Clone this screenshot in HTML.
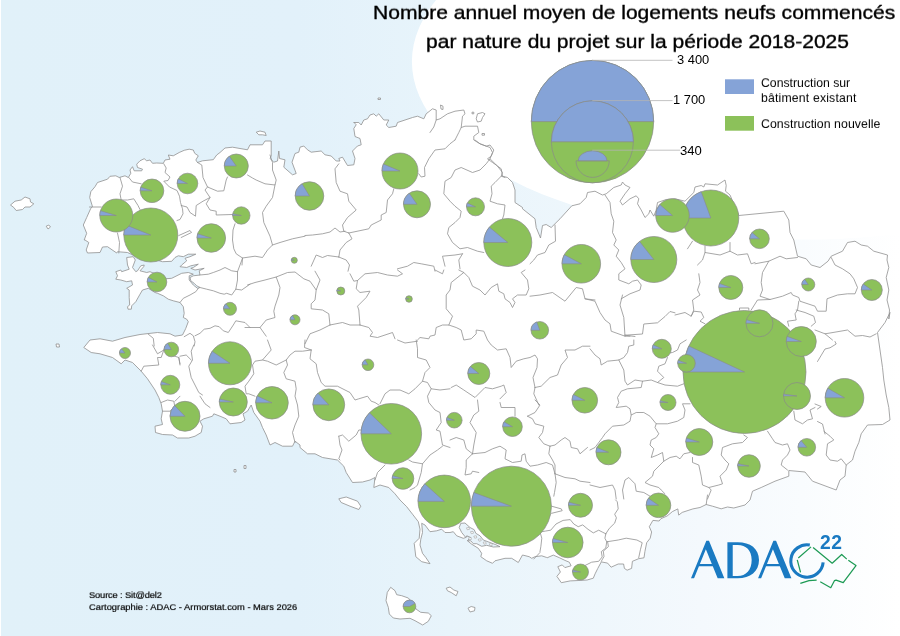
<!DOCTYPE html>
<html><head><meta charset="utf-8"><title>Carte</title>
<style>
html,body{margin:0;padding:0;}
body{width:900px;height:636px;overflow:hidden;position:relative;font-family:"Liberation Sans",sans-serif;background:#fff;}
#bg{position:absolute;left:1px;top:0;width:899px;height:636px;background:linear-gradient(to right,#e1f1f9 0%,#e2f1fa 33%,#e8f4fb 50%,#eff7fc 67%,#f4f9fd 78%,#f9fcfe 89%,#ffffff 100%);}
svg{position:absolute;left:0;top:0;}
.t{position:absolute;white-space:nowrap;color:#000;line-height:1;transform-origin:0 100%;will-change:transform;}
</style></head><body>
<div id="bg"></div>
<svg width="900" height="636" viewBox="0 0 900 636">

<ellipse cx="803.2" cy="61.6" rx="391.3" ry="177.9" fill="#ffffff"/>
<g fill="#ffffff" stroke="#909090" stroke-width="0.8" stroke-linejoin="round">
<path d="M84.2,240.0 L86.7,233.3 L83.3,225.0 L86.7,217.5 L90.8,208.3 L92.5,206.7 L89.7,197.5 L90.8,191.7 L95.0,186.7 L97.5,182.5 L107.5,179.2 L110.0,176.3 L115.8,175.8 L119.2,177.5 L125.0,175.8 L128.3,177.5 L130.8,173.3 L130.0,170.0 L132.5,166.7 L134.2,170.8 L141.7,170.8 L142.5,169.2 L137.5,167.5 L136.7,164.2 L140.0,160.8 L144.2,158.7 L146.7,160.8 L150.0,160.0 L152.5,163.3 L156.7,163.0 L163.3,163.3 L165.0,160.0 L170.0,159.2 L168.3,155.0 L173.3,155.8 L179.2,152.5 L184.2,150.3 L189.2,149.2 L193.3,150.0 L194.7,153.3 L198.3,155.8 L195.8,160.0 L197.5,162.5 L202.5,160.8 L213.3,159.7 L216.7,155.0 L220.0,152.5 L225.0,148.0 L232.5,147.2 L247.5,149.8 L250.0,144.8 L262.5,144.8 L265.0,141.0 L271.2,141.0 L271.2,156.0 L270.0,158.5 L273.8,162.2 L277.5,161.0 L278.8,151.0 L279.5,158.5 L285.0,159.8 L283.8,167.2 L292.5,174.8 L296.2,173.5 L292.0,162.2 L295.0,153.5 L298.8,152.2 L300.0,147.2 L303.8,146.0 L307.5,149.8 L311.2,152.2 L321.2,151.0 L325.0,154.8 L331.2,156.0 L336.2,161.0 L340.0,161.0 L338.8,158.5 L342.5,157.2 L347.5,165.5 L353.8,164.8 L355.0,158.5 L352.5,151.0 L357.5,146.0 L361.2,144.8 L360.0,138.5 L355.0,136.5 L353.8,128.5 L356.2,124.8 L353.8,122.2 L353.8,122.5 L358.8,122.5 L361.2,125.0 L363.8,120.0 L367.5,118.8 L370.0,115.0 L373.8,113.8 L376.2,116.2 L378.8,113.8 L383.8,120.0 L388.8,120.0 L386.2,125.0 L388.8,127.5 L396.2,126.2 L397.5,122.5 L412.5,117.5 L417.5,116.2 L423.8,118.8 L426.2,113.8 L432.5,108.8 L436.2,110.0 L436.2,120.0 L440.0,118.8 L447.5,113.8 L455.0,111.2 L463.8,110.0 L465.0,113.8 L462.5,116.2 L461.2,127.5 L465.0,126.2 L477.5,126.2 L478.8,132.5 L473.8,136.2 L473.8,140.0 L480.0,143.8 L486.2,146.2 L490.0,145.0 L493.8,150.0 L491.2,156.2 L487.5,158.8 L492.5,162.5 L496.2,165.0 L501.2,168.8 L502.5,176.2 L507.5,177.5 L512.5,182.5 L515.0,190.0 L515.0,202.5 L522.5,207.5 L522.5,208.8 L535.0,218.8 L536.2,227.5 L540.5,238.0 L542.5,225.5 L546.2,224.5 L551.2,227.5 L560.0,218.8 L571.8,205.8 L580.0,203.8 L586.2,197.5 L587.5,192.5 L595.0,191.2 L600.0,193.8 L602.5,195.0 L606.2,193.8 L613.8,187.5 L621.2,185.0 L622.5,182.0 L625.0,185.0 L630.0,187.5 L625.0,193.8 L620.0,201.2 L622.5,205.0 L630.0,198.8 L636.2,195.8 L638.8,198.8 L637.5,203.8 L641.2,210.0 L645.0,217.5 L648.8,213.8 L650.0,210.0 L653.8,216.2 L656.2,210.0 L657.5,202.5 L666.2,199.5 L675.0,198.8 L685.0,201.2 L693.8,192.5 L695.0,187.0 L701.2,185.5 L703.8,187.0 L705.0,183.8 L717.5,185.0 L725.0,180.0 L726.2,185.5 L725.5,191.2 L730.0,195.0 L738.8,215.5 L783.8,211.2 L788.8,220.0 L790.0,232.5 L793.8,240.0 L797.5,256.2 L806.2,258.8 L811.2,265.0 L820.0,267.5 L828.0,261.2 L831.2,256.2 L842.5,251.2 L847.5,242.5 L855.0,241.2 L861.2,245.0 L867.5,246.2 L873.8,251.2 L887.5,255.0 L887.0,260.0 L888.8,267.5 L886.2,277.5 L888.8,290.0 L887.0,300.0 L889.5,310.0 L888.8,319.0 L890.0,312.5 L885.0,322.5 L877.5,332.5 L880.0,350.0 L882.5,367.5 L883.8,380.0 L886.2,395.0 L888.8,407.5 L890.0,420.0 L882.5,424.5 L867.5,425.0 L861.2,433.8 L858.8,442.5 L855.0,451.2 L852.5,460.0 L846.2,465.0 L845.0,476.2 L840.0,480.0 L836.2,490.0 L812.5,481.2 L805.0,472.0 L788.8,470.5 L788.8,476.2 L775.0,481.2 L761.2,487.5 L752.5,491.2 L750.0,500.0 L745.0,505.0 L733.8,508.0 L727.5,507.0 L721.2,508.8 L712.5,506.2 L706.2,504.5 L700.0,507.5 L692.9,508.9 L682.2,512.4 L678.7,515.1 L677.8,508.9 L672.4,511.6 L667.1,516.0 L660.9,518.7 L659.1,521.0 L652.9,520.4 L649.3,526.7 L651.6,532.0 L650.2,538.2 L646.7,542.7 L644.9,551.6 L644.0,557.8 L638.7,558.7 L632.4,561.3 L631.6,568.4 L627.1,570.2 L624.4,568.4 L623.6,564.0 L618.2,564.0 L611.1,567.2 L607.6,563.1 L601.3,561.9 L597.8,568.4 L595.1,573.8 L593.3,578.2 L587.1,580.0 L580.9,580.4 L570.2,580.9 L561.3,582.7 L556.9,576.4 L560.4,572.0 L557.8,566.7 L562.2,564.9 L564.9,567.6 L571.1,565.8 L569.3,562.2 L564.9,560.4 L559.6,557.8 L553.3,555.1 L547.1,557.8 L546.7,557.5 L541.7,555.8 L535.0,556.7 L531.7,558.3 L529.2,556.7 L522.5,555.0 L518.3,562.5 L511.7,558.3 L505.0,558.3 L495.0,560.8 L492.5,563.3 L486.7,560.8 L480.8,556.7 L481.7,553.3 L478.3,548.3 L471.7,544.2 L467.5,540.8 L470.8,537.5 L474.2,537.5 L470.0,533.3 L465.8,537.5 L463.3,538.3 L456.7,535.8 L453.3,531.7 L450.0,532.5 L445.0,532.5 L441.7,529.2 L436.7,530.8 L430.0,531.7 L425.0,525.0 L421.7,523.3 L422.5,532.5 L420.8,539.2 L420.0,545.0 L422.5,553.3 L425.8,557.5 L430.0,563.7 L421.7,561.7 L415.8,556.7 L414.2,543.3 L419.2,538.3 L420.0,529.2 L418.3,521.7 L412.5,514.2 L406.7,506.7 L400.0,500.0 L395.0,493.8 L388.8,487.5 L380.0,485.0 L373.8,487.5 L375.0,477.5 L370.0,480.0 L362.5,482.0 L352.5,482.5 L346.2,472.5 L343.8,466.2 L337.5,460.0 L322.5,457.5 L315.0,453.8 L307.5,453.8 L300.0,447.5 L300.0,445.0 L295.0,441.2 L292.5,446.2 L282.5,446.2 L275.0,442.5 L270.0,445.0 L266.2,435.0 L262.5,427.5 L260.0,421.2 L253.8,412.5 L251.2,405.0 L247.5,411.2 L243.0,413.8 L245.0,420.0 L241.2,422.5 L230.0,423.8 L226.2,418.8 L220.0,416.2 L213.8,413.8 L212.5,416.2 L203.8,418.8 L200.0,421.2 L202.5,426.2 L201.2,432.5 L195.0,436.2 L188.8,438.0 L177.5,438.0 L172.5,435.0 L162.5,434.5 L155.5,432.5 L155.0,426.2 L162.5,424.5 L161.2,418.8 L162.5,411.2 L161.2,403.8 L158.8,397.5 L155.0,390.0 L147.5,378.8 L141.2,371.2 L132.5,362.5 L125.0,360.0 L121.2,363.8 L112.5,357.5 L100.0,353.8 L91.2,352.5 L83.8,347.5 L90.0,340.0 L100.0,338.8 L112.5,341.2 L125.0,337.5 L140.0,334.5 L157.5,332.5 L170.0,333.8 L175.0,336.2 L182.5,335.0 L185.0,330.0 L185.8,328.3 L188.3,321.7 L186.7,319.2 L183.3,317.5 L184.2,313.3 L183.3,306.7 L180.0,302.5 L173.3,300.8 L168.3,299.2 L163.3,295.8 L157.5,293.3 L155.0,292.5 L148.3,288.3 L142.5,290.0 L140.0,294.2 L135.8,301.7 L131.7,305.8 L131.3,309.2 L128.0,309.2 L127.5,306.7 L129.7,305.0 L129.2,297.5 L129.2,290.0 L126.7,288.3 L132.5,285.0 L131.7,280.8 L126.7,281.7 L120.8,280.0 L115.8,279.2 L117.5,275.8 L115.8,271.7 L120.8,270.0 L121.7,271.7 L129.2,269.2 L127.5,265.0 L126.7,257.5 L133.3,256.7 L135.3,260.0 L132.5,267.5 L135.8,271.7 L137.5,270.8 L140.8,265.8 L144.2,265.0 L143.7,266.7 L140.0,270.8 L146.7,272.5 L150.0,271.7 L166.7,278.7 L171.7,278.3 L181.7,273.3 L188.3,272.5 L193.3,274.2 L189.2,275.8 L189.2,280.0 L193.3,285.0 L197.5,288.3 L200.0,287.5 L196.7,285.8 L194.2,283.3 L190.8,280.8 L190.0,277.5 L193.3,275.8 L200.0,275.0 L199.2,270.8 L204.2,268.3 L195.0,270.0 L190.8,268.3 L193.3,267.5 L198.3,264.2 L190.8,265.8 L186.7,267.5 L180.0,266.7 L181.7,265.0 L186.7,260.8 L185.0,258.3 L190.0,256.7 L195.8,254.2 L188.3,254.2 L183.3,256.7 L178.3,255.8 L175.0,257.5 L171.7,261.3 L162.5,261.7 L150.0,258.3 L136.7,256.7 L127.5,252.5 L117.5,251.7 L116.7,253.0 L107.5,246.7 L102.5,247.0 L100.0,252.5 L87.5,253.0 L86.2,250.0 L88.8,242.5 L85.0,240.0Z"/>
<path d="M10.5,205.0 L15.0,201.2 L21.2,200.0 L25.0,197.0 L30.0,198.8 L30.5,202.0 L33.8,203.8 L30.0,207.0 L25.0,207.0 L22.5,209.5 L16.2,210.5 L13.8,207.5Z"/>
<path d="M46.2,226.2 L48.8,225.0 L50.5,227.0 L48.0,229.0Z"/>
<path d="M256.2,132.2 L260.0,131.0 L265.0,132.2 L266.2,135.5 L262.5,134.8 L258.8,134.8Z"/>
<path d="M477.5,113.8 L482.5,112.5 L485.0,113.8 L482.5,117.5 L481.2,121.2 L477.5,122.0 L476.2,118.8Z"/>
<path d="M378.0,98.0 L380.5,98.0 L380.5,99.5 L378.0,99.5Z"/>
<path d="M482.0,133.5 L484.5,133.5 L484.5,135.2 L482.0,135.2Z"/>
<path d="M472.0,112.2 L473.8,112.2 L473.8,113.8 L472.0,113.8Z"/>
<path d="M440.5,105.0 L443.0,106.2 L443.0,109.5 L441.0,109.0Z"/>
<path d="M338.8,498.8 L346.2,497.0 L357.5,501.2 L360.8,506.2 L358.8,509.5 L350.0,506.2 L341.2,502.5Z"/>
<path d="M387.3,592.3 L390.7,587.3 L395.0,590.7 L396.7,594.7 L401.7,595.7 L408.3,598.0 L411.7,601.7 L416.0,609.0 L420.7,612.3 L428.3,613.0 L431.3,615.7 L428.3,621.3 L422.7,625.0 L415.0,620.7 L410.0,618.3 L400.0,619.0 L393.3,618.0 L389.3,614.0 L388.3,607.3 L386.0,600.7Z"/>
<path d="M446.2,588.2 L450.0,587.0 L453.8,590.0 L458.0,591.5 L456.2,595.8 L451.2,592.5 L447.5,590.8Z"/>
<path d="M468.0,608.2 L471.2,606.5 L475.0,607.5 L474.5,610.8 L470.0,612.0Z"/>
<path d="M234.0,469.5 L236.0,469.5 L236.0,472.0 L234.0,472.0Z"/>
<path d="M244.0,465.5 L246.0,465.5 L246.0,468.5 L244.0,468.5Z"/>
<path d="M56.0,344.0 L59.0,344.0 L59.5,347.0 L56.5,347.0Z"/>
<path d="M460.8,523.3 L465.0,523.0 L470.0,527.5 L474.2,529.7 L475.8,533.3 L480.0,535.8 L483.3,540.0 L490.0,542.5 L495.8,544.7 L500.0,546.7 L493.3,547.0 L486.7,545.3 L481.7,546.3 L476.7,543.7 L473.3,543.7 L470.8,540.8 L467.5,540.8 L470.8,537.5 L466.7,535.8 L465.8,537.5 L461.7,532.5 L459.2,527.5Z" fill="#e8f3fa"/>
<path d="M466.5,527.8 L469.0,527.5 L469.5,529.3 L467.3,529.8Z" stroke-width="0.5"/>
<path d="M470.5,531.7 L473.0,531.3 L473.5,533.2 L471.3,533.7Z" stroke-width="0.5"/>
<path d="M473.8,536.2 L476.3,535.8 L476.8,537.7 L474.7,538.2Z" stroke-width="0.5"/>
<path d="M478.2,539.2 L480.7,538.8 L481.2,540.7 L479.0,541.2Z" stroke-width="0.5"/>
<path d="M483.2,542.2 L485.7,541.8 L486.2,543.7 L484.0,544.2Z" stroke-width="0.5"/>
<path d="M489.3,543.8 L491.8,543.5 L492.3,545.3 L490.2,545.8Z" stroke-width="0.5"/>
<path d="M468.5,537.8 L471.0,537.5 L471.5,539.3 L469.3,539.8Z" stroke-width="0.5"/>
</g>
<g fill="none" stroke="#909090" stroke-width="0.8" stroke-linejoin="round" stroke-linecap="round">
<path d="M89.5,207.0 L101.2,207.0"/>
<path d="M120.0,177.5 L122.5,186.2 L120.0,193.8 L121.2,200.0 L127.5,200.0 L133.8,198.8 L138.0,205.5 L140.0,209.5"/>
<path d="M128.8,177.5 L132.5,182.0 L141.2,183.8"/>
<path d="M117.5,233.0 L119.5,242.5 L118.8,253.0"/>
<path d="M163.8,163.8 L166.2,168.0 L165.0,172.5 L170.0,177.0 L168.0,180.5 L163.8,181.2 L169.5,187.0 L177.0,190.5 L179.5,196.2 L180.5,202.5 L182.5,208.8 L183.0,213.8 L180.0,219.5 L177.0,220.5"/>
<path d="M197.5,162.5 L201.8,165.0 L203.0,177.5 L207.5,187.0 L217.5,191.2 L223.8,190.8 L226.2,180.0 L227.5,177.0"/>
<path d="M207.5,187.0 L205.0,190.0 L210.0,197.5 L206.2,203.8 L210.0,210.0 L216.2,211.2 L216.2,215.0 L232.5,214.5"/>
<path d="M181.2,205.5 L187.0,207.0 L190.0,212.5 L195.5,216.2 L196.2,205.5 L203.0,201.2 L210.0,197.5"/>
<path d="M247.5,175.0 L252.5,178.0 L256.2,180.0 L265.0,183.8 L275.0,185.0 L276.2,180.0 L272.5,170.0 L272.5,162.5 L270.0,155.0"/>
<path d="M275.0,185.0 L272.5,197.5 L266.2,206.2 L262.5,212.5 L263.8,222.5 L270.0,236.2 L272.5,245.0 L267.5,250.0 L262.5,257.5 L255.0,256.2 L242.5,258.0 L236.2,253.8 L233.8,248.8 L232.5,240.0 L233.0,230.0 L235.0,223.8"/>
<path d="M272.5,245.0 L280.0,242.5 L292.5,238.8 L305.0,236.2"/>
<path d="M242.5,258.0 L242.0,265.0"/>
<path d="M338.8,163.8 L335.0,168.8 L336.2,182.5 L340.0,191.2 L347.5,193.8 L348.8,201.2 L356.2,210.0 L347.5,217.5 L342.5,225.0 L343.8,231.2 L348.8,233.0"/>
<path d="M345.0,231.2 L340.0,232.0 L335.0,228.0 L330.0,232.0 L322.5,233.8 L312.5,235.0 L305.0,235.5"/>
<path d="M348.8,233.0 L368.8,228.8 L371.2,225.0 L381.2,220.0 L381.2,215.0 L386.2,212.5 L387.5,200.0 L392.5,193.8 L393.8,188.8"/>
<path d="M348.8,233.0 L352.0,238.8 L346.2,242.5 L340.0,250.0 L338.8,257.0"/>
<path d="M338.8,257.0 L327.5,255.5 L322.5,257.5 L316.2,255.0 L311.2,266.2"/>
<path d="M338.8,257.0 L346.2,260.0 L349.5,265.0 L348.0,271.2"/>
<path d="M397.5,268.8 L407.5,266.2 L413.8,262.5 L421.2,263.8 L433.8,266.2 L435.0,271.2"/>
<path d="M445.0,266.2 L442.5,256.2 L455.0,255.0 L462.5,253.8"/>
<path d="M418.8,173.8 L421.2,177.0 L425.0,176.2 L424.5,167.5 L428.8,158.8 L435.0,150.0 L445.0,148.8 L450.0,143.8 L455.0,140.0"/>
<path d="M475.0,140.0 L480.0,143.8 L490.0,147.5 L492.5,152.5 L490.0,158.8 L486.2,163.8 L480.0,170.0 L472.5,172.5 L461.2,167.5 L455.0,170.0 L451.2,177.5 L445.0,181.2 L443.8,193.8 L450.0,201.2 L455.0,206.2 L461.2,211.2 L460.0,217.5 L455.0,222.5 L448.8,227.5 L447.5,233.8 L452.5,242.5 L460.0,248.8 L467.5,247.5 L477.5,251.2 L483.8,252.5"/>
<path d="M490.0,158.8 L497.5,166.2 L502.5,172.5 L501.2,176.2 L505.0,177.5"/>
<path d="M501.2,176.2 L495.0,182.5 L491.2,186.2 L492.0,193.8 L490.0,201.2 L497.5,203.8 L505.0,205.0 L503.8,215.0 L502.5,218.8"/>
<path d="M462.5,253.8 L458.8,260.0 L460.0,268.8"/>
<path d="M605.0,195.0 L610.0,202.5 L611.2,213.8 L613.8,221.2 L612.5,232.5 L616.2,240.0 L613.8,245.0 L618.8,250.0 L616.2,256.2 L621.2,262.5 L625.0,268.8 L618.8,273.8 L618.8,280.0 L628.8,283.8 L632.5,281.2 L637.5,280.0 L641.2,285.0 L640.0,290.0 L630.0,293.8 L621.2,298.8"/>
<path d="M555.0,225.0 L555.5,241.2 L548.8,245.0 L545.0,252.5 L537.5,255.0 L533.8,260.0 L530.0,263.8"/>
<path d="M530.0,296.2 L540.0,295.0 L552.5,292.5 L565.0,301.2 L576.2,287.5 L582.5,288.8 L585.0,298.8 L595.0,300.0"/>
<path d="M687.5,248.8 L692.5,241.2"/>
<path d="M705.0,246.2 L705.0,252.5 L720.0,255.0 L730.0,251.2 L730.0,242.5"/>
<path d="M705.0,252.5 L702.5,260.0 L697.5,265.0"/>
<path d="M730.0,251.2 L737.5,255.0 L747.5,253.8 L751.2,263.8 L755.0,262.5"/>
<path d="M755.0,263.8 L768.8,261.2 L780.0,256.2 L786.2,258.8 L797.5,257.5"/>
<path d="M768.8,261.2 L762.5,272.5 L761.2,282.5 L762.5,290.0 L760.0,296.2 L770.0,299.5 L782.5,296.2 L791.2,292.5 L792.5,295.0 L798.8,297.5 L800.0,301.2 L815.0,306.2 L817.5,311.2 L826.2,311.2 L827.0,298.8 L837.5,295.0 L847.5,293.8 L855.0,293.8 L857.5,287.5 L853.8,278.8 L850.0,273.8 L842.5,268.8 L835.0,265.0 L831.2,257.5"/>
<path d="M698.8,273.8 L700.0,282.5 L697.5,290.0 L700.0,295.0 L692.5,300.0 L693.8,310.0 L691.2,316.2 L685.0,312.5 L675.0,315.0"/>
<path d="M691.2,316.2 L693.8,311.2 L701.2,312.0 L703.8,317.5 L700.0,321.2 L705.0,323.8"/>
<path d="M770.0,299.5 L757.5,300.0 L751.2,310.0"/>
<path d="M739.5,310.0 L739.5,308.0 L748.8,308.0 L748.8,310.0"/>
<path d="M798.8,301.2 L797.5,310.0 L795.0,313.8 L796.2,320.0 L787.5,321.2 L788.8,326.2"/>
<path d="M796.2,310.0 L805.0,312.5 L813.8,316.2 L815.5,322.5 L811.2,326.2"/>
<path d="M815.0,330.0 L825.0,333.8 L830.0,333.0 L847.5,330.0 L855.0,336.2 L862.5,335.5 L870.0,337.0 L876.2,333.8"/>
<path d="M825.0,333.8 L832.5,340.0"/>
<path d="M247.5,285.0 L255.0,282.5 L265.0,280.0 L276.2,277.0 L280.0,287.5 L278.8,295.0 L275.0,306.2 L273.8,311.2 L275.0,317.5 L266.2,320.0 L260.0,327.5 L266.2,336.2"/>
<path d="M276.2,277.0 L287.5,272.5 L295.0,272.0 L303.8,278.8 L310.0,281.2 L316.2,290.0 L320.0,280.0 L315.0,271.2"/>
<path d="M350.0,273.8 L353.8,281.2 L357.5,280.5"/>
<path d="M316.2,290.0 L315.0,300.0 L311.2,303.8 L311.2,308.8 L322.5,310.0 L328.8,313.8 L330.0,325.0"/>
<path d="M330.0,325.0 L342.5,322.5 L350.0,325.0 L360.0,325.0"/>
<path d="M360.0,325.0 L358.8,310.0 L357.5,306.2 L366.2,297.5 L370.0,291.2 L360.0,292.5 L356.2,288.8 L357.5,280.5 L365.0,273.8 L377.5,272.5 L387.5,275.0 L397.5,276.2 L402.5,273.8 L397.5,270.0"/>
<path d="M360.0,325.0 L368.8,327.5 L372.5,332.5 L370.0,336.2 L377.5,337.5 L385.0,335.0 L392.5,332.5 L395.0,338.8"/>
<path d="M330.0,325.0 L320.0,330.0 L310.0,333.8 L305.0,343.8"/>
<path d="M245.0,327.5 L260.0,327.5"/>
<path d="M193.8,345.0 L191.2,351.2 L192.5,360.0 L188.8,366.2 L191.2,377.5 L195.0,385.0 L198.8,392.5 L202.5,395.0"/>
<path d="M180.0,356.2 L186.2,355.0 L191.2,360.0"/>
<path d="M417.5,340.0 L420.0,337.5 L428.8,338.8 L430.0,336.2 L435.0,335.0 L436.2,327.5 L442.5,325.0 L448.8,325.0 L456.2,327.5 L461.2,330.0 L463.8,340.0 L471.2,338.8 L476.2,333.8 L476.2,330.0 L483.8,331.2 L487.5,340.0 L491.2,345.0 L497.5,350.0 L506.2,348.8 L510.0,357.5 L511.2,367.5 L516.2,361.2 L523.8,358.8 L530.0,357.5 L535.0,355.0 L537.5,358.8 L537.0,367.5 L533.0,377.5 L535.0,387.5"/>
<path d="M448.8,325.0 L452.5,316.2 L446.2,308.8 L446.2,295.0 L450.0,290.0 L451.2,282.5 L463.8,272.5 L468.8,277.5 L472.5,286.2 L480.0,290.0 L485.0,295.0 L491.2,287.5 L497.5,283.8 L498.8,291.2 L503.8,293.8 L505.0,298.8 L510.0,302.5 L512.5,307.5 L515.0,302.5 L512.5,298.8 L517.5,295.0 L526.2,295.0 L528.8,288.8 L527.5,280.0 L521.2,272.5 L525.0,270.0"/>
<path d="M435.0,270.0 L442.5,273.8 L443.8,270.0"/>
<path d="M458.8,270.0 L463.8,272.5"/>
<path d="M585.0,298.8 L595.0,301.2 L600.0,312.5 L605.0,320.0 L610.0,323.8 L611.2,331.2 L625.0,336.2 L630.0,336.2"/>
<path d="M622.5,295.0 L620.0,305.0 L623.8,317.5 L625.0,336.2"/>
<path d="M535.0,387.5 L541.2,386.2 L550.0,377.5 L557.5,375.0 L561.2,365.0 L567.5,357.5 L565.0,350.0 L575.0,350.0 L582.5,346.2 L590.0,346.2"/>
<path d="M535.0,387.5 L533.8,393.8 L538.8,405.0"/>
<path d="M451.2,387.5 L456.2,385.0 L463.8,390.0 L475.0,397.5 L485.0,387.5 L492.5,388.8 L501.2,386.2 L503.8,385.0 L506.2,392.5 L500.0,398.8"/>
<path d="M835.0,341.5 L836.2,344.0 L830.0,347.8 L825.0,349.0 L817.5,361.5"/>
<path d="M815.0,404.0 L821.2,406.5 L817.5,409.0"/>
<path d="M817.5,421.5 L822.5,424.0 L825.0,434.0"/>
<path d="M823.8,431.2 L830.0,436.2 L833.8,440.0 L827.5,443.8 L826.2,455.0 L830.0,460.0 L837.5,461.2 L841.2,458.8 L846.2,465.0"/>
<path d="M707.5,495.0 L706.2,504.5"/>
<path d="M450.0,440.0 L456.2,437.5 L463.8,440.0 L466.2,448.8 L472.5,453.8"/>
<path d="M472.5,453.8 L473.8,445.0 L476.2,432.5 L470.0,422.5 L473.8,415.0 L478.8,411.2 L477.5,400.0"/>
<path d="M472.5,453.8 L485.0,452.5 L492.5,448.8 L500.0,446.2 L506.2,450.0 L505.0,458.8 L512.5,462.5 L521.2,461.2 L522.0,455.0 L525.0,453.8 L526.2,461.2 L530.0,466.2 L537.5,465.0 L546.2,462.5 L552.5,465.0 L555.0,473.8"/>
<path d="M472.5,453.8 L466.2,460.0 L466.2,467.5 L465.0,475.0 L471.2,473.8 L472.5,471.2 L478.8,472.5"/>
<path d="M500.0,402.5 L501.2,407.5 L515.0,407.5 L515.0,416.2"/>
<path d="M527.5,416.2 L532.5,418.8 L535.0,423.8 L543.8,426.2 L542.5,432.5 L538.8,437.5 L543.8,443.8 L550.0,446.2"/>
<path d="M535.0,400.0 L540.0,405.0 L535.0,412.5 L527.5,416.2"/>
<path d="M550.0,446.2 L555.0,445.0 L561.2,440.0 L565.0,437.5 L570.0,441.2 L571.2,447.5 L577.5,448.8 L580.0,453.8 L587.5,447.5"/>
<path d="M550.0,446.2 L548.8,453.8 L552.5,460.0 L555.0,465.0 L555.0,473.8"/>
<path d="M555.0,473.8 L565.0,477.5 L575.0,478.8 L580.0,481.2 L590.0,482.5"/>
<path d="M555.0,473.8 L556.2,482.5 L554.5,492.5 L553.8,496.2"/>
<path d="M540.0,552.5 L533.8,559.0"/>
<path d="M152.5,345.0 L157.5,353.8 L163.8,350.0 L161.2,357.5 L157.5,357.5 L158.8,365.0 L143.8,366.2 L141.2,371.2"/>
<path d="M163.8,350.0 L171.2,355.0 L178.8,357.5 L180.0,363.8"/>
<path d="M178.8,357.5 L180.0,365.0"/>
<path d="M200.0,396.2 L205.0,403.8 L210.0,407.5"/>
<path d="M161.2,402.5 L167.5,400.0 L173.8,401.2 L175.0,407.5 L170.0,411.2 L162.5,411.2"/>
<path d="M180.0,396.2 L175.0,401.2"/>
<path d="M540.0,532.0 L545.3,531.1 L550.7,530.2 L556.0,524.0 L563.1,520.4 L570.2,519.6 L573.8,524.0 L578.2,526.7 L582.7,524.9 L588.0,529.3 L593.3,532.9 L598.7,530.2 L602.2,532.0 L605.8,533.8"/>
<path d="M605.8,533.8 L609.3,528.4 L614.7,523.1 L616.4,517.8 L614.7,514.2 L618.2,508.9 L617.3,501.8 L615.6,500.0"/>
<path d="M605.8,533.8 L604.9,538.2 L606.7,541.8 L618.2,540.0 L626.2,538.2 L636.9,540.0 L642.2,542.7 L640.4,549.8 L638.7,557.8"/>
<path d="M606.7,541.8 L605.8,548.0 L601.3,551.6 L602.2,556.9 L598.7,561.3 L591.6,562.2 L588.0,564.0 L582.7,566.7 L578.2,564.9"/>
<path d="M607.6,541.8 L608.4,546.6 L603.3,551.2 L604.0,556.5 L601.3,561.3"/>
<path d="M540.0,532.0 L541.8,538.2 L540.9,546.2 L540.0,551.6"/>
<path d="M551.6,506.2 L561.3,508.9 L562.2,510.7 L551.6,513.3"/>
<path d="M625.0,335.2 L635.0,336.5"/>
<path d="M625.0,335.2 L642.5,334.0 L643.8,324.0 L657.5,322.8 L665.0,316.5 L670.0,311.5 L675.0,312.8"/>
<path d="M200.0,275.0 L208.3,274.2 L213.3,272.5 L220.0,270.0 L225.0,267.5 L231.7,270.8 L237.5,271.7 L237.5,280.0 L235.8,289.2 L241.7,290.0 L250.0,284.2"/>
<path d="M237.5,271.7 L242.5,258.3"/>
<path d="M200.0,287.5 L206.7,289.2 L213.3,290.8 L220.0,293.3 L224.2,294.2 L226.7,293.3 L231.7,295.0 L235.8,289.2"/>
<path d="M180.0,302.5 L183.3,298.3 L190.0,295.0 L195.8,291.7 L198.3,288.3"/>
<path d="M184.2,336.7 L190.0,333.3 L193.3,335.8 L195.0,341.7 L194.2,346.0"/>
<path d="M195.0,335.8 L200.0,333.3 L204.2,329.2 L210.0,328.3 L215.0,325.8 L219.2,326.7 L223.3,330.8 L228.3,332.5 L233.3,325.0 L235.8,320.8 L245.0,322.5 L250.0,327.5"/>
<path d="M148.3,334.2 L153.3,338.3 L154.2,346.0"/>
<path d="M311.2,350.0 L310.0,358.8 L316.2,363.8 L317.5,372.5 L321.2,382.5 L325.0,386.2 L337.5,386.2 L345.0,390.0 L350.0,392.5 L355.0,400.0 L358.8,398.8 L367.5,396.2 L371.2,401.2 L375.0,402.5 L378.8,405.0"/>
<path d="M380.0,403.8 L385.0,393.8 L390.0,390.0 L400.0,390.0 L408.8,393.8 L415.0,388.8 L422.5,381.2 L427.5,382.5 L431.2,388.8 L440.0,390.0 L450.0,388.8"/>
<path d="M431.2,388.8 L427.5,396.2 L428.8,402.5 L435.0,410.0 L440.0,412.5 L441.2,422.5 L436.2,430.0 L440.0,431.2 L442.5,445.0 L450.0,447.5"/>
<path d="M442.5,446.2 L437.5,450.0 L430.0,455.0 L422.5,463.8 L412.5,462.0 L408.8,460.0"/>
<path d="M422.5,463.8 L421.2,472.5 L417.5,485.0 L415.0,487.5 L410.0,490.0"/>
<path d="M385.0,465.0 L377.5,472.5 L375.0,480.0"/>
<path d="M338.8,436.2 L342.5,435.0 L348.8,441.2 L356.2,435.0 L358.8,430.0 L361.2,430.0"/>
<path d="M338.8,436.2 L340.0,445.0 L342.0,450.0 L338.8,458.8 L340.0,460.0"/>
<path d="M311.2,350.0 L302.5,351.2 L295.0,351.2 L290.0,355.0 L286.2,360.0 L287.5,365.0 L283.8,372.5 L286.2,378.8 L295.0,381.2 L296.2,388.8 L295.0,396.2 L297.5,405.0 L298.8,416.2 L295.0,425.0 L292.5,432.5 L295.0,442.5"/>
<path d="M286.2,360.0 L276.2,365.0 L267.5,361.2 L262.5,360.0 L255.0,361.2 L252.5,365.0 L253.8,373.8 L248.8,381.2 L245.0,386.2 L246.2,393.8 L248.8,393.8 L255.0,396.2"/>
<path d="M262.5,360.0 L271.2,350.0 L267.5,340.0"/>
<path d="M305.0,340.0 L304.5,347.5 L311.2,350.0"/>
<path d="M422.5,381.2 L425.0,372.5 L430.0,367.5 L426.2,360.0 L417.5,357.5 L417.5,348.8 L416.2,340.0"/>
<path d="M397.5,340.0 L405.0,343.0 L417.5,341.2"/>
<path d="M590.0,348.8 L595.0,355.0 L600.0,358.8 L601.2,365.0 L607.5,361.2 L618.8,360.0 L623.8,357.5 L627.5,352.5 L628.8,346.2 L633.8,345.0 L633.8,340.0"/>
<path d="M618.8,360.0 L623.8,370.0 L625.0,381.2 L627.5,385.0 L635.0,380.0 L642.5,381.2 L651.2,380.0 L657.5,382.5 L663.8,377.5 L657.5,371.2 L658.8,366.2 L665.0,363.8 L667.5,357.5 L663.8,353.8 L672.5,352.5 L677.5,350.0 L680.0,343.8 L686.2,340.0"/>
<path d="M642.5,381.2 L641.2,387.5 L627.5,388.8 L621.2,391.2 L617.5,397.5 L618.8,402.5 L616.2,407.5 L626.2,406.2 L630.0,408.8 L631.2,415.0 L636.2,412.5 L643.8,412.5 L650.0,416.2 L656.2,423.8 L667.5,423.8 L677.5,421.2 L683.8,417.5 L685.0,410.0 L682.5,403.8 L690.0,403.8"/>
<path d="M657.5,382.5 L665.0,385.0 L677.5,386.2 L683.8,383.8"/>
<path d="M631.2,415.0 L630.0,421.2 L623.8,425.0 L612.5,426.2 L605.0,433.8 L602.5,437.5 L595.0,447.5 L590.0,450.0"/>
<path d="M656.2,423.8 L655.0,427.5 L658.8,433.8 L656.2,437.5 L651.2,440.0 L650.0,445.0 L653.8,448.8 L651.2,457.5 L657.5,455.0 L662.5,452.5 L663.8,461.2 L670.0,457.5 L676.2,456.2 L680.0,458.8 L683.8,453.8 L690.0,452.5"/>
<path d="M663.8,461.2 L660.0,465.0 L653.8,471.2 L652.5,476.2 L645.0,482.5 L650.0,485.0 L658.8,487.5 L661.2,490.0 L665.0,493.8"/>
<path d="M692.5,457.5 L692.5,462.5 L698.8,465.0 L701.2,476.2 L702.5,485.0 L708.8,487.5 L718.8,485.0 L722.5,483.8 L720.0,476.2 L726.2,470.0 L728.8,463.8 L725.0,460.0 L721.2,455.0 L722.5,447.5 L732.5,443.8 L742.5,442.5 L747.5,437.5 L743.8,435.0"/>
<path d="M708.8,487.5 L711.2,490.0 L707.5,499.0"/>
<path d="M767.5,431.2 L772.5,438.8 L775.0,442.5 L782.5,445.0 L787.5,443.8 L790.0,450.0 L787.5,455.0 L782.5,460.0 L781.2,465.0 L787.5,470.0"/>
<path d="M793.8,411.2 L795.0,420.0 L802.5,423.8 L807.5,420.0 L812.5,418.8 L810.0,410.0 L815.0,407.5"/>
<path d="M590.0,485.0 L600.0,487.5 L612.5,485.0 L615.0,490.0 L616.2,499.0"/>
<path d="M623.8,499.0 L622.5,490.0 L625.0,480.0 L628.8,477.5 L635.0,483.8 L636.2,491.2 L643.8,492.5 L650.0,496.2"/>
<path d="M436.2,120.0 L433.8,127.0 L430.0,132.5"/>
<path d="M461.2,127.5 L458.8,132.5 L455.0,140.0"/>
<path d="M178.8,235.5 L190.0,230.5 L191.5,232.5 L181.2,237.5"/>
</g>
<g>
<circle cx="744.5" cy="372.0" r="61.5" fill="#8cc15a" stroke="#8a8a8a" stroke-width="0.7"/>
<path d="M744.5,372.0 L683.0,372.0 A61.5,61.5 0 0 1 688.8,346.0 Z" fill="#85a3d7" stroke="#8a8a8a" stroke-width="0.6" stroke-linejoin="round"/>
<circle cx="511.4" cy="506.2" r="40.0" fill="#8cc15a" stroke="#8a8a8a" stroke-width="0.7"/>
<path d="M511.4,506.2 L471.4,506.2 A40.0,40.0 0 0 1 473.8,492.5 Z" fill="#85a3d7" stroke="#8a8a8a" stroke-width="0.6" stroke-linejoin="round"/>
<circle cx="391.3" cy="433.8" r="30.3" fill="#8cc15a" stroke="#8a8a8a" stroke-width="0.7"/>
<path d="M391.3,433.8 L361.0,433.8 A30.3,30.3 0 0 1 369.5,412.8 Z" fill="#85a3d7" stroke="#8a8a8a" stroke-width="0.6" stroke-linejoin="round"/>
<circle cx="710.8" cy="218.0" r="28.0" fill="#8cc15a" stroke="#8a8a8a" stroke-width="0.7"/>
<path d="M710.8,218.0 L682.8,218.0 A28.0,28.0 0 0 1 701.2,191.7 Z" fill="#85a3d7" stroke="#8a8a8a" stroke-width="0.6" stroke-linejoin="round"/>
<circle cx="150.8" cy="235.0" r="27.0" fill="#8cc15a" stroke="#8a8a8a" stroke-width="0.7"/>
<path d="M150.8,235.0 L123.8,235.0 A27.0,27.0 0 0 1 125.8,224.9 Z" fill="#85a3d7" stroke="#8a8a8a" stroke-width="0.6" stroke-linejoin="round"/>
<circle cx="444.3" cy="501.4" r="26.3" fill="#8cc15a" stroke="#8a8a8a" stroke-width="0.7"/>
<path d="M444.3,501.4 L418.0,501.4 A26.3,26.3 0 0 1 424.8,483.8 Z" fill="#85a3d7" stroke="#8a8a8a" stroke-width="0.6" stroke-linejoin="round"/>
<circle cx="507.8" cy="242.5" r="24.0" fill="#8cc15a" stroke="#8a8a8a" stroke-width="0.7"/>
<path d="M507.8,242.5 L483.8,242.5 A24.0,24.0 0 0 1 489.4,227.1 Z" fill="#85a3d7" stroke="#8a8a8a" stroke-width="0.6" stroke-linejoin="round"/>
<circle cx="653.8" cy="259.5" r="23.0" fill="#8cc15a" stroke="#8a8a8a" stroke-width="0.7"/>
<path d="M653.8,259.5 L630.8,259.5 A23.0,23.0 0 0 1 639.6,241.4 Z" fill="#85a3d7" stroke="#8a8a8a" stroke-width="0.6" stroke-linejoin="round"/>
<circle cx="230.0" cy="363.3" r="21.5" fill="#8cc15a" stroke="#8a8a8a" stroke-width="0.7"/>
<path d="M230.0,363.3 L208.5,363.3 A21.5,21.5 0 0 1 212.2,351.3 Z" fill="#85a3d7" stroke="#8a8a8a" stroke-width="0.6" stroke-linejoin="round"/>
<circle cx="581.3" cy="263.8" r="19.3" fill="#8cc15a" stroke="#8a8a8a" stroke-width="0.7"/>
<path d="M581.3,263.8 L562.0,263.8 A19.3,19.3 0 0 1 564.3,254.7 Z" fill="#85a3d7" stroke="#8a8a8a" stroke-width="0.6" stroke-linejoin="round"/>
<circle cx="844.5" cy="397.8" r="19.3" fill="#8cc15a" stroke="#8a8a8a" stroke-width="0.7"/>
<path d="M844.5,397.8 L825.2,397.8 A19.3,19.3 0 0 1 827.8,388.2 Z" fill="#85a3d7" stroke="#8a8a8a" stroke-width="0.6" stroke-linejoin="round"/>
<circle cx="400.0" cy="171.0" r="18.0" fill="#8cc15a" stroke="#8a8a8a" stroke-width="0.7"/>
<path d="M400.0,171.0 L382.0,171.0 A18.0,18.0 0 0 1 383.4,164.0 Z" fill="#85a3d7" stroke="#8a8a8a" stroke-width="0.6" stroke-linejoin="round"/>
<circle cx="672.5" cy="215.5" r="16.8" fill="#8cc15a" stroke="#8a8a8a" stroke-width="0.7"/>
<path d="M672.5,215.5 L655.7,215.5 A16.8,16.8 0 0 1 659.8,204.5 Z" fill="#85a3d7" stroke="#8a8a8a" stroke-width="0.6" stroke-linejoin="round"/>
<circle cx="116.3" cy="215.5" r="16.5" fill="#8cc15a" stroke="#8a8a8a" stroke-width="0.7"/>
<path d="M116.3,215.5 L99.8,215.5 A16.5,16.5 0 0 1 100.5,210.7 Z" fill="#85a3d7" stroke="#8a8a8a" stroke-width="0.6" stroke-linejoin="round"/>
<circle cx="272.0" cy="402.8" r="16.3" fill="#8cc15a" stroke="#8a8a8a" stroke-width="0.7"/>
<path d="M272.0,402.8 L255.7,402.8 A16.3,16.3 0 0 1 257.2,395.9 Z" fill="#85a3d7" stroke="#8a8a8a" stroke-width="0.6" stroke-linejoin="round"/>
<circle cx="328.8" cy="404.8" r="15.9" fill="#8cc15a" stroke="#8a8a8a" stroke-width="0.7"/>
<path d="M328.8,404.8 L312.9,404.8 A15.9,15.9 0 0 1 318.0,393.2 Z" fill="#85a3d7" stroke="#8a8a8a" stroke-width="0.6" stroke-linejoin="round"/>
<circle cx="567.8" cy="542.5" r="15.3" fill="#8cc15a" stroke="#8a8a8a" stroke-width="0.7"/>
<path d="M567.8,542.5 L552.5,542.5 A15.3,15.3 0 0 1 553.0,538.5 Z" fill="#85a3d7" stroke="#8a8a8a" stroke-width="0.6" stroke-linejoin="round"/>
<circle cx="801.3" cy="341.5" r="15.0" fill="#8cc15a" stroke="#8a8a8a" stroke-width="0.7"/>
<path d="M801.3,341.5 L786.3,341.5 A15.0,15.0 0 0 1 787.2,336.4 Z" fill="#85a3d7" stroke="#8a8a8a" stroke-width="0.6" stroke-linejoin="round"/>
<circle cx="185.0" cy="416.3" r="15.0" fill="#8cc15a" stroke="#8a8a8a" stroke-width="0.7"/>
<path d="M185.0,416.3 L170.0,416.3 A15.0,15.0 0 0 1 174.6,405.5 Z" fill="#85a3d7" stroke="#8a8a8a" stroke-width="0.6" stroke-linejoin="round"/>
<circle cx="211.3" cy="238.0" r="14.3" fill="#8cc15a" stroke="#8a8a8a" stroke-width="0.7"/>
<path d="M211.3,238.0 L197.0,238.0 A14.3,14.3 0 0 1 197.6,233.8 Z" fill="#85a3d7" stroke="#8a8a8a" stroke-width="0.6" stroke-linejoin="round"/>
<circle cx="309.5" cy="196.0" r="14.3" fill="#8cc15a" stroke="#8a8a8a" stroke-width="0.7"/>
<path d="M309.5,196.0 L295.2,196.0 A14.3,14.3 0 0 1 302.1,183.7 Z" fill="#85a3d7" stroke="#8a8a8a" stroke-width="0.6" stroke-linejoin="round"/>
<circle cx="233.3" cy="402.0" r="14.0" fill="#8cc15a" stroke="#8a8a8a" stroke-width="0.7"/>
<path d="M233.3,402.0 L219.3,402.0 A14.0,14.0 0 0 1 219.6,399.1 Z" fill="#85a3d7" stroke="#8a8a8a" stroke-width="0.6" stroke-linejoin="round"/>
<circle cx="417.0" cy="204.3" r="13.5" fill="#8cc15a" stroke="#8a8a8a" stroke-width="0.7"/>
<path d="M417.0,204.3 L403.5,204.3 A13.5,13.5 0 0 1 409.3,193.2 Z" fill="#85a3d7" stroke="#8a8a8a" stroke-width="0.6" stroke-linejoin="round"/>
<circle cx="759.5" cy="323.3" r="13.5" fill="#8cc15a" stroke="#8a8a8a" stroke-width="0.7"/>
<path d="M759.5,323.3 L746.0,323.3 A13.5,13.5 0 0 1 746.5,319.8 Z" fill="#85a3d7" stroke="#8a8a8a" stroke-width="0.6" stroke-linejoin="round"/>
<circle cx="797.0" cy="396.0" r="13.5" fill="#8cc15a" stroke="#8a8a8a" stroke-width="0.7"/>
<path d="M797.0,396.0 L783.5,396.0 A13.5,13.5 0 0 1 783.6,394.1 Z" fill="#85a3d7" stroke="#8a8a8a" stroke-width="0.6" stroke-linejoin="round"/>
<circle cx="699.3" cy="442.0" r="13.5" fill="#8cc15a" stroke="#8a8a8a" stroke-width="0.7"/>
<path d="M699.3,442.0 L685.8,442.0 A13.5,13.5 0 0 1 686.4,438.1 Z" fill="#85a3d7" stroke="#8a8a8a" stroke-width="0.6" stroke-linejoin="round"/>
<circle cx="584.8" cy="400.3" r="12.8" fill="#8cc15a" stroke="#8a8a8a" stroke-width="0.7"/>
<path d="M584.8,400.3 L572.0,400.3 A12.8,12.8 0 0 1 573.4,394.5 Z" fill="#85a3d7" stroke="#8a8a8a" stroke-width="0.6" stroke-linejoin="round"/>
<circle cx="608.5" cy="452.3" r="12.5" fill="#8cc15a" stroke="#8a8a8a" stroke-width="0.7"/>
<path d="M608.5,452.3 L596.0,452.3 A12.5,12.5 0 0 1 596.9,447.6 Z" fill="#85a3d7" stroke="#8a8a8a" stroke-width="0.6" stroke-linejoin="round"/>
<circle cx="658.5" cy="505.3" r="12.3" fill="#8cc15a" stroke="#8a8a8a" stroke-width="0.7"/>
<path d="M658.5,505.3 L646.2,505.3 A12.3,12.3 0 0 1 648.4,498.2 Z" fill="#85a3d7" stroke="#8a8a8a" stroke-width="0.6" stroke-linejoin="round"/>
<circle cx="236.3" cy="166.0" r="12.0" fill="#8cc15a" stroke="#8a8a8a" stroke-width="0.7"/>
<path d="M236.3,166.0 L224.3,166.0 A12.0,12.0 0 0 1 229.4,156.2 Z" fill="#85a3d7" stroke="#8a8a8a" stroke-width="0.6" stroke-linejoin="round"/>
<circle cx="730.8" cy="287.5" r="12.0" fill="#8cc15a" stroke="#8a8a8a" stroke-width="0.7"/>
<path d="M730.8,287.5 L718.8,287.5 A12.0,12.0 0 0 1 719.5,283.4 Z" fill="#85a3d7" stroke="#8a8a8a" stroke-width="0.6" stroke-linejoin="round"/>
<circle cx="580.5" cy="505.3" r="12.0" fill="#8cc15a" stroke="#8a8a8a" stroke-width="0.7"/>
<path d="M580.5,505.3 L568.5,505.3 A12.0,12.0 0 0 1 568.9,502.2 Z" fill="#85a3d7" stroke="#8a8a8a" stroke-width="0.6" stroke-linejoin="round"/>
<circle cx="152.0" cy="190.8" r="11.8" fill="#8cc15a" stroke="#8a8a8a" stroke-width="0.7"/>
<path d="M152.0,190.8 L140.2,190.8 A11.8,11.8 0 0 1 140.8,187.2 Z" fill="#85a3d7" stroke="#8a8a8a" stroke-width="0.6" stroke-linejoin="round"/>
<circle cx="749.0" cy="466.0" r="11.3" fill="#8cc15a" stroke="#8a8a8a" stroke-width="0.7"/>
<path d="M749.0,466.0 L737.7,466.0 A11.3,11.3 0 0 1 737.9,463.7 Z" fill="#85a3d7" stroke="#8a8a8a" stroke-width="0.6" stroke-linejoin="round"/>
<circle cx="478.8" cy="373.5" r="11.0" fill="#8cc15a" stroke="#8a8a8a" stroke-width="0.7"/>
<path d="M478.8,373.5 L467.8,373.5 A11.0,11.0 0 0 1 470.4,366.4 Z" fill="#85a3d7" stroke="#8a8a8a" stroke-width="0.6" stroke-linejoin="round"/>
<circle cx="403.0" cy="478.5" r="10.8" fill="#8cc15a" stroke="#8a8a8a" stroke-width="0.7"/>
<path d="M403.0,478.5 L392.2,478.5 A10.8,10.8 0 0 1 392.6,475.7 Z" fill="#85a3d7" stroke="#8a8a8a" stroke-width="0.6" stroke-linejoin="round"/>
<circle cx="871.8" cy="290.0" r="10.5" fill="#8cc15a" stroke="#8a8a8a" stroke-width="0.7"/>
<path d="M871.8,290.0 L861.3,290.0 A10.5,10.5 0 0 1 863.2,284.0 Z" fill="#85a3d7" stroke="#8a8a8a" stroke-width="0.6" stroke-linejoin="round"/>
<circle cx="187.5" cy="183.5" r="10.3" fill="#8cc15a" stroke="#8a8a8a" stroke-width="0.7"/>
<path d="M187.5,183.5 L177.2,183.5 A10.3,10.3 0 0 1 178.3,178.8 Z" fill="#85a3d7" stroke="#8a8a8a" stroke-width="0.6" stroke-linejoin="round"/>
<circle cx="157.0" cy="282.0" r="9.8" fill="#8cc15a" stroke="#8a8a8a" stroke-width="0.7"/>
<path d="M157.0,282.0 L147.2,282.0 A9.8,9.8 0 0 1 148.3,277.4 Z" fill="#85a3d7" stroke="#8a8a8a" stroke-width="0.6" stroke-linejoin="round"/>
<circle cx="759.5" cy="238.8" r="9.8" fill="#8cc15a" stroke="#8a8a8a" stroke-width="0.7"/>
<path d="M759.5,238.8 L749.7,238.8 A9.8,9.8 0 0 1 752.0,232.5 Z" fill="#85a3d7" stroke="#8a8a8a" stroke-width="0.6" stroke-linejoin="round"/>
<circle cx="512.5" cy="426.7" r="9.8" fill="#8cc15a" stroke="#8a8a8a" stroke-width="0.7"/>
<path d="M512.5,426.7 L502.7,426.7 A9.8,9.8 0 0 1 504.0,421.8 Z" fill="#85a3d7" stroke="#8a8a8a" stroke-width="0.6" stroke-linejoin="round"/>
<circle cx="661.8" cy="348.8" r="9.5" fill="#8cc15a" stroke="#8a8a8a" stroke-width="0.7"/>
<path d="M661.8,348.8 L652.3,348.8 A9.5,9.5 0 0 1 653.2,344.8 Z" fill="#85a3d7" stroke="#8a8a8a" stroke-width="0.6" stroke-linejoin="round"/>
<circle cx="170.3" cy="384.8" r="9.5" fill="#8cc15a" stroke="#8a8a8a" stroke-width="0.7"/>
<path d="M170.3,384.8 L160.8,384.8 A9.5,9.5 0 0 1 161.4,381.6 Z" fill="#85a3d7" stroke="#8a8a8a" stroke-width="0.6" stroke-linejoin="round"/>
<circle cx="475.5" cy="206.8" r="9.0" fill="#8cc15a" stroke="#8a8a8a" stroke-width="0.7"/>
<path d="M475.5,206.8 L466.5,206.8 A9.0,9.0 0 0 1 467.3,203.0 Z" fill="#85a3d7" stroke="#8a8a8a" stroke-width="0.6" stroke-linejoin="round"/>
<circle cx="686.5" cy="363.3" r="8.8" fill="#8cc15a" stroke="#8a8a8a" stroke-width="0.7"/>
<path d="M686.5,363.3 L677.7,363.3 A8.8,8.8 0 0 1 678.2,360.3 Z" fill="#85a3d7" stroke="#8a8a8a" stroke-width="0.6" stroke-linejoin="round"/>
<circle cx="806.8" cy="447.3" r="8.8" fill="#8cc15a" stroke="#8a8a8a" stroke-width="0.7"/>
<path d="M806.8,447.3 L798.0,447.3 A8.8,8.8 0 0 1 801.1,440.6 Z" fill="#85a3d7" stroke="#8a8a8a" stroke-width="0.6" stroke-linejoin="round"/>
<circle cx="539.8" cy="330.3" r="8.8" fill="#8cc15a" stroke="#8a8a8a" stroke-width="0.7"/>
<path d="M539.8,330.3 L531.0,330.3 A8.8,8.8 0 0 1 536.8,322.0 Z" fill="#85a3d7" stroke="#8a8a8a" stroke-width="0.6" stroke-linejoin="round"/>
<circle cx="241.3" cy="215.5" r="8.7" fill="#8cc15a" stroke="#8a8a8a" stroke-width="0.7"/>
<path d="M241.3,215.5 L232.6,215.5 A8.7,8.7 0 0 1 232.8,213.7 Z" fill="#85a3d7" stroke="#8a8a8a" stroke-width="0.6" stroke-linejoin="round"/>
<circle cx="668.0" cy="402.5" r="8.0" fill="#8cc15a" stroke="#8a8a8a" stroke-width="0.7"/>
<path d="M668.0,402.5 L660.0,402.5 A8.0,8.0 0 0 1 660.2,400.8 Z" fill="#85a3d7" stroke="#8a8a8a" stroke-width="0.6" stroke-linejoin="round"/>
<circle cx="580.5" cy="572.0" r="8.0" fill="#8cc15a" stroke="#8a8a8a" stroke-width="0.7"/>
<path d="M580.5,572.0 L572.5,572.0 A8.0,8.0 0 0 1 572.8,569.9 Z" fill="#85a3d7" stroke="#8a8a8a" stroke-width="0.6" stroke-linejoin="round"/>
<circle cx="454.3" cy="420.2" r="7.8" fill="#8cc15a" stroke="#8a8a8a" stroke-width="0.7"/>
<path d="M454.3,420.2 L446.5,420.2 A7.8,7.8 0 0 1 447.0,417.5 Z" fill="#85a3d7" stroke="#8a8a8a" stroke-width="0.6" stroke-linejoin="round"/>
<circle cx="171.3" cy="349.5" r="7.3" fill="#8cc15a" stroke="#8a8a8a" stroke-width="0.7"/>
<path d="M171.3,349.5 L164.0,349.5 A7.3,7.3 0 0 1 167.7,343.2 Z" fill="#85a3d7" stroke="#8a8a8a" stroke-width="0.6" stroke-linejoin="round"/>
<circle cx="230.0" cy="308.8" r="6.5" fill="#8cc15a" stroke="#8a8a8a" stroke-width="0.7"/>
<path d="M230.0,308.8 L223.5,308.8 A6.5,6.5 0 0 1 225.8,303.8 Z" fill="#85a3d7" stroke="#8a8a8a" stroke-width="0.6" stroke-linejoin="round"/>
<circle cx="808.3" cy="284.5" r="6.5" fill="#8cc15a" stroke="#8a8a8a" stroke-width="0.7"/>
<path d="M808.3,284.5 L801.8,284.5 A6.5,6.5 0 0 1 804.6,279.2 Z" fill="#85a3d7" stroke="#8a8a8a" stroke-width="0.6" stroke-linejoin="round"/>
<circle cx="409.5" cy="606.5" r="6.3" fill="#8cc15a" stroke="#8a8a8a" stroke-width="0.7"/>
<path d="M409.5,606.5 L403.2,606.5 A6.3,6.3 0 0 1 415.0,603.4 Z" fill="#85a3d7" stroke="#8a8a8a" stroke-width="0.6" stroke-linejoin="round"/>
<circle cx="368.0" cy="364.8" r="5.8" fill="#8cc15a" stroke="#8a8a8a" stroke-width="0.7"/>
<path d="M368.0,364.8 L362.2,364.8 A5.8,5.8 0 0 1 365.1,359.8 Z" fill="#85a3d7" stroke="#8a8a8a" stroke-width="0.6" stroke-linejoin="round"/>
<circle cx="125.0" cy="353.0" r="5.5" fill="#8cc15a" stroke="#8a8a8a" stroke-width="0.7"/>
<path d="M125.0,353.0 L119.5,353.0 A5.5,5.5 0 0 1 121.5,348.8 Z" fill="#85a3d7" stroke="#8a8a8a" stroke-width="0.6" stroke-linejoin="round"/>
<circle cx="295.0" cy="319.8" r="5.0" fill="#8cc15a" stroke="#8a8a8a" stroke-width="0.7"/>
<path d="M295.0,319.8 L290.0,319.8 A5.0,5.0 0 0 1 292.5,315.5 Z" fill="#85a3d7" stroke="#8a8a8a" stroke-width="0.6" stroke-linejoin="round"/>
<circle cx="340.8" cy="291.0" r="4.0" fill="#8cc15a" stroke="#8a8a8a" stroke-width="0.7"/>
<path d="M340.8,291.0 L336.8,291.0 A4.0,4.0 0 0 1 337.0,289.6 Z" fill="#85a3d7" stroke="#8a8a8a" stroke-width="0.6" stroke-linejoin="round"/>
<circle cx="409.0" cy="299.0" r="3.3" fill="#8cc15a" stroke="#8a8a8a" stroke-width="0.7"/>
<path d="M409.0,299.0 L405.7,299.0 A3.3,3.3 0 0 1 405.9,297.9 Z" fill="#85a3d7" stroke="#8a8a8a" stroke-width="0.6" stroke-linejoin="round"/>
<circle cx="294.3" cy="260.3" r="3.0" fill="#8cc15a" stroke="#8a8a8a" stroke-width="0.7"/>
<path d="M294.3,260.3 L291.3,260.3 A3.0,3.0 0 0 1 291.7,258.8 Z" fill="#85a3d7" stroke="#8a8a8a" stroke-width="0.6" stroke-linejoin="round"/>
</g>
<g stroke="#8a8a8a" stroke-width="0.7">
<circle cx="592.5" cy="121.6" r="61.2" fill="#8cc15a"/>
<path d="M531.3,121.6 A61.2,61.2 0 0 1 653.7,121.6 Z" fill="#85a3d7"/>
<circle cx="592.4" cy="141.8" r="41" fill="#8cc15a"/>
<path d="M551.4,141.8 A41,41 0 0 1 633.4,141.8 Z" fill="#85a3d7"/>
<path d="M576,160.8 A16.6,16.6 0 0 0 609.2,160.8 Z" fill="#8cc15a"/>
<path d="M578.2,160.8 A14.4,10 0 0 1 607,160.8 Z" fill="#85a3d7"/>
</g>
<g stroke="#b4b4b4" stroke-width="0.8">
<line x1="592.3" y1="60.3" x2="672.5" y2="60.3"/>
<line x1="592.3" y1="100.6" x2="672.5" y2="100.6"/>
<line x1="592.3" y1="150.2" x2="680" y2="150.2"/>
</g>
<rect x="725" y="79.3" width="29" height="14.7" fill="#85a3d7"/>
<rect x="725" y="116" width="29" height="14.7" fill="#8cc15a"/>
<g id="logo">
<g transform="translate(685,530) scale(0.133333)" fill="#1a7ac2">
<path fill-rule="evenodd" d="M45,362 L160,80 L180,80 L295,362 L245,362 L208.3,272 L104.7,272 L68,362 Z M111.7,255 L201.3,255 L156.5,145.1 Z"/>
<path fill-rule="evenodd" d="M318,92 L395,92 C490,92 555,140 555,225 C555,310 490,362 395,362 L318,362 Z M358,112 L395,112 C458,112 500,150 500,225 C500,300 458,345 395,345 L358,345 Z"/>
<path fill-rule="evenodd" transform="translate(503,0)" d="M45,362 L160,80 L180,80 L295,362 L245,362 L208.3,272 L104.7,272 L68,362 Z M111.7,255 L201.3,255 L156.5,145.1 Z"/>
</g>
<path d="M809.81,545.05 A16.2,16.2 0 1 0 823.14,562.41" fill="none" stroke="#1a7ac2" stroke-width="3.1"/>
<path d="M811.05,546.85 L798.28,558.09 M797.26,559.83 L800.53,572.39 M813.09,547.57 L832.19,563.2 L841.69,554.51 L846.8,559.11 M848.33,560.34 L855.99,565.55 L843.22,582.6 L836.07,580.05 L834.54,580.56 L830.76,587.71 L820.24,581.79 M800.32,583.32 L809,580.56 L816.66,580.05" fill="none" stroke="#1e9b55" stroke-width="1.25" stroke-linejoin="round"/>
</g>
</svg>
<div class="t" style="left:373.2px;top:0.66px;font-size:21.07px;transform-origin:0 17.84px;transform:scaleY(0.935);-webkit-text-stroke:0.4px #000;">Nombre annuel moyen de logements neufs commencés</div>
<div class="t" style="left:425.6px;top:29.60px;font-size:21.03px;transform-origin:0 17.80px;transform:scaleY(0.935);-webkit-text-stroke:0.4px #000;">par nature du projet sur la période 2018-2025</div>
<div class="t" style="left:677.3px;top:54.08px;font-size:12.90px;transform-origin:0 10.92px;transform:scaleY(1.000);">3 400</div>
<div class="t" style="left:672.9px;top:94.38px;font-size:12.90px;transform-origin:0 10.92px;transform:scaleY(1.000);">1 700</div>
<div class="t" style="left:680.2px;top:144.11px;font-size:13.10px;transform-origin:0 11.09px;transform:scaleY(1.000);">340</div>
<div class="t" style="left:760.6px;top:76.93px;font-size:12.25px;transform-origin:0 10.37px;transform:scaleY(0.970);">Construction sur</div>
<div class="t" style="left:760.9px;top:92.23px;font-size:12.25px;transform-origin:0 10.37px;transform:scaleY(0.970);letter-spacing:0.17px;">bâtiment existant</div>
<div class="t" style="left:760.6px;top:117.85px;font-size:12.35px;transform-origin:0 10.45px;transform:scaleY(0.970);letter-spacing:0.03px;">Construction nouvelle</div>
<div class="t" style="left:88.9px;top:590.99px;font-size:9.35px;transform-origin:0 7.91px;transform:scaleY(0.950);letter-spacing:-0.16px;-webkit-text-stroke:0.2px #000;">Source : Sit@del2</div>
<div class="t" style="left:88.9px;top:603.09px;font-size:9.35px;transform-origin:0 7.91px;transform:scaleY(0.950);-webkit-text-stroke:0.2px #000;">Cartographie : ADAC - Armorstat.com - Mars 2026</div>
<div class="t" style="left:819.5px;top:532.56px;font-size:19.30px;transform-origin:0 16.34px;transform:scaleY(1.000);color:#1a7ac2;font-weight:bold;letter-spacing:0.5px;">22</div>
</body></html>
